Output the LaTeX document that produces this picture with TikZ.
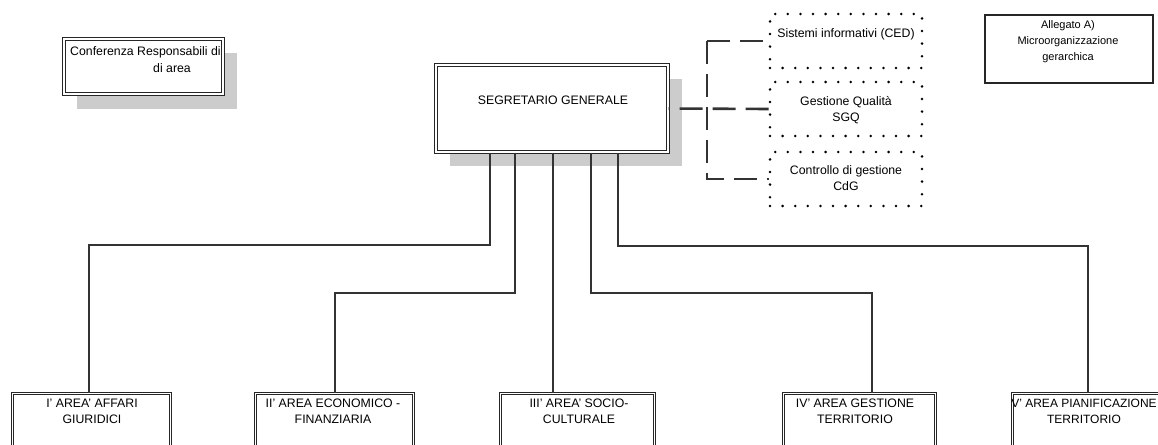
\documentclass[tikz,border=0pt]{standalone}
\usepackage{fontspec}
\setmainfont{Liberation Sans}
\begin{document}
\begin{tikzpicture}[x=1pt,y=-1pt,
  dbox/.style={draw=black!85, double, double distance=1.3pt, line width=1.1pt, fill=white, inner sep=0pt},
  sbox/.style={draw=black!85, line width=1.4pt, fill=white, inner sep=0pt},
  shade/.style={fill=black!20, draw=none},
  conn/.style={draw=black!80, line width=2.4pt},
  dashconn/.style={draw=black!80, line width=2.6pt, dash pattern=on 23pt off 10pt},
  dotbox/.style={draw=black, line width=2.8pt, line cap=round, dash pattern=on 0pt off 12.6pt, inner sep=0pt},
  lbl/.style={font=\fontsize{12.3}{15.5}\selectfont, align=center, inner sep=0pt},
  slbl/.style={font=\fontsize{11}{16}\selectfont, align=center, inner sep=0pt},
]
\useasboundingbox (0,0) rectangle (1158,444);
\clip (0,0) rectangle (1158,444);

% shadows
\fill[shade] (77,53) rectangle (237,109);
\fill[shade] (450,79) rectangle (682,166);

% boxes
\node[dbox, minimum width=159pt, minimum height=55pt] (conf) at (143.5,66.5) {};
\node[lbl, anchor=base west] (conft1) at (70,56) {Conferenza Responsabili di};
\node[lbl, anchor=base west] (conft2) at (153,72) {di area};

\node[dbox, minimum width=232pt, minimum height=87pt] (seg) at (552,108.5) {};
\node[lbl, anchor=base] (segt) at (553,104) {SEGRETARIO GENERALE};

\node[sbox, minimum width=168pt, minimum height=68pt] (alle) at (1069,49) {};
\node[slbl] (allet) at (1068,42) {Allegato A)\\Microorganizzazione\\gerarchica};

% dotted staff boxes
\node[dotbox, minimum width=152pt, minimum height=54pt] (d1) at (846,41) {};
\node[dotbox, minimum width=152pt, minimum height=54pt] (d2) at (846,109) {};
\node[dotbox, minimum width=152pt, minimum height=54pt] (d3) at (846,179) {};
\node[lbl] (d1t) at (846,34) {Sistemi informativi (CED)};
\node[lbl] (d2t) at (846,110) {Gestione Qualità\\SGQ};
\node[lbl] (d3t) at (846,178) {Controllo di gestione\\CdG};

% bottom area boxes
\node[dbox, minimum width=158pt, minimum height=90pt, anchor=north west] (b1) at (12,393) {};
\node[dbox, minimum width=158pt, minimum height=90pt, anchor=north west] (b2) at (255,393) {};
\node[dbox, minimum width=154pt, minimum height=90pt, anchor=north west] (b3) at (500,393) {};
\node[dbox, minimum width=152pt, minimum height=90pt, anchor=north west] (b4) at (783,393) {};
\node[dbox, minimum width=158pt, minimum height=90pt, anchor=north west] (b5) at (1012,393) {};
\node[lbl, anchor=north] (b1t) at (92,399) {I' AREA' AFFARI\\GIURIDICI};
\node[lbl, anchor=north] (b2t) at (333,399) {II' AREA ECONOMICO -\\FINANZIARIA};
\node[lbl, anchor=north] (b3t) at (579,399) {III' AREA' SOCIO-\\CULTURALE};
\node[lbl, anchor=north] (b4t) at (855,399) {IV' AREA GESTIONE\\TERRITORIO};
\node[lbl, anchor=north, font=\fontsize{12}{15.5}\selectfont] (b5t) at (1084,399) {V' AREA PIANIFICAZIONE\\TERRITORIO};

% connector coordinates
\coordinate (s1) at (490,0);
\coordinate (s2) at (515,0);
\coordinate (s3) at (553,0);
\coordinate (s4) at (591,0);
\coordinate (s5) at (618,0);
\coordinate (k1) at (89,245);
\coordinate (k2) at (335,293);
\coordinate (k4) at (872,293);
\coordinate (k5) at (1088,246);
\coordinate (bx) at (707,0);

% solid connectors
\draw[conn] (seg.south -| s1) |- (k1) -- (k1 |- b1.north);
\draw[conn] (seg.south -| s2) |- (k2) -- (k2 |- b2.north);
\draw[conn] (seg.south -| s3) -- (s3 |- b3.north);
\draw[conn] (seg.south -| s4) |- (k4) -- (k4 |- b4.north);
\draw[conn] (seg.south -| s5) |- (k5) -- (k5 |- b5.north);

% dashed staff connectors
\draw[dashconn] (d1.west -| bx) -- (d1.west);
\draw[dashconn] (d1.west -| bx) -- (d3.west -| bx) -- (d3.west);
\draw[dashconn] (d2.west) -- (seg.east);
\end{tikzpicture}
\end{document}
